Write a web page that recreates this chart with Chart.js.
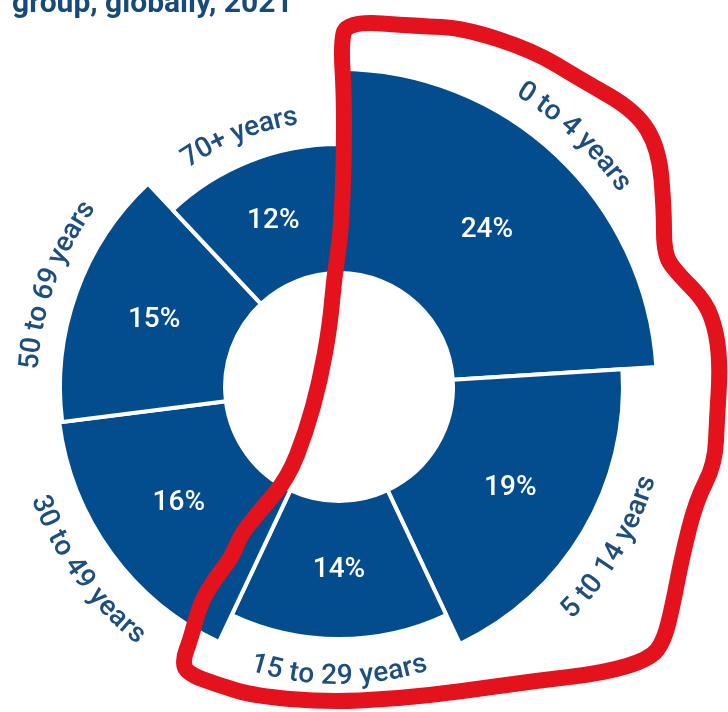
<!DOCTYPE html>
<html>
<head>
<meta charset="utf-8">
<script src="https://cdn.jsdelivr.net/npm/chart.js@4.4.1/dist/chart.umd.min.js"></script>
<style>
  html, body { margin: 0; padding: 0; background: #fff; }
  #wrap { position: relative; width: 728px; height: 712px; overflow: hidden; }
  #title {
    position: absolute; left: 12px; top: -13px;
    font: bold 30px Roboto, sans-serif; line-height: 29px;
    color: #174a7c; white-space: nowrap; z-index: 2;
  }
  canvas { position: absolute; left: 0; top: 0; }
</style>
</head>
<body>
<div id="wrap">
  <div id="title">group, globally, 2021</div>
  <canvas id="chart" width="728" height="712"></canvas>
</div>
<script>
// ── data ──────────────────────────────────────
const ageGroups = ['0 to 4 years', '5 t0 14 years', '15 to 29 years', '30 to 49 years', '50 to 69 years', '70+ years'];
const shares    = [24, 19, 14, 16, 15, 12];

// ── look ──────────────────────────────────────
const BLUE       = '#034c8e';
const LABEL_BLUE = '#1d4e7e';
const RED        = '#e3121d';
const HOLE_R     = 114;
const OUTER_R    = [318, 284, 252, 282, 279, 243];   // ring depth per slice, as drawn
const FONT       = 'Roboto, sans-serif';

// freehand highlight, offsets from the pie centre
const highlightTrace = [
  [7,-366],[79,-361],[125,-359],[195,-336],[241,-308],[297,-276],[320,-238],
  [325,-178],[325,-132],[339,-113],[367,-85],[378,-53],[381,-16],[378,31],
  [376,77],[357,114],[343,170],[334,217],[325,254],[311,272],[265,286],
  [195,294],[125,304],[56,312],[-14,315],[-84,309],[-121,298],[-153,286],
  [-156,272],[-149,254],[-139,217],[-125,193],[-107,170],[-98,147],[-79,124],
  [-51,91],[-33,45],[-19,-6],[-9,-62],[-5,-108],[2,-155],[5,-225],[5,-294],[2,-341],
];

function drawArcText(ctx, text, cx, cy, r, mid, bottom) {
  const chars  = [...text];
  const widths = chars.map(ch => ctx.measureText(ch).width);
  const total  = widths.reduce((a, b) => a + b, 0);
  const dir    = bottom ? -1 : 1;
  const start  = mid - dir * total / (2 * r);
  let off = 0;
  chars.forEach((ch, i) => {
    const a = start + dir * (off + widths[i] / 2) / r;
    off += widths[i];
    ctx.save();
    ctx.translate(cx + r * Math.cos(a), cy + r * Math.sin(a));
    ctx.rotate(a + dir * Math.PI / 2);
    ctx.fillText(ch, 0, 0);
    ctx.restore();
  });
}

const ringPlugin = {
  id: 'ring',
  afterDatasetsUpdate(chart) {
    chart.getDatasetMeta(0).data.forEach((arc, i) => {
      arc.innerRadius = HOLE_R;
      arc.outerRadius = OUTER_R[i];
    });
  },
  afterDatasetsDraw(chart) {
    const ctx = chart.ctx;
    const arcs = chart.getDatasetMeta(0).data;
    ctx.save();
    ctx.textAlign = 'center';
    ctx.textBaseline = 'middle';
    arcs.forEach((arc, i) => {
      const mid = (arc.startAngle + arc.endAngle) / 2;
      const r = (arc.innerRadius + arc.outerRadius) / 2;
      ctx.font = `500 28px ${FONT}`;
      ctx.fillStyle = '#fff';
      ctx.fillText(shares[i] + '%', arc.x + r * Math.cos(mid), arc.y + r * Math.sin(mid));

      const bottom = Math.sin(mid) > 0;
      ctx.fillStyle = LABEL_BLUE;
      drawArcText(ctx, ageGroups[i], arc.x, arc.y, arc.outerRadius + (bottom ? 38 : 30), mid, bottom);
    });
    ctx.restore();
  },
  afterDraw(chart) {
    const ctx = chart.ctx;
    const arc = chart.getDatasetMeta(0).data[0];
    const pts = highlightTrace.map(([dx, dy]) => [arc.x + dx, arc.y + dy]);
    ctx.save();
    ctx.strokeStyle = RED;
    ctx.lineWidth = 16;
    ctx.lineJoin = 'round';
    ctx.lineCap = 'round';
    ctx.beginPath();
    const n = pts.length;
    const m0 = [(pts[n - 1][0] + pts[0][0]) / 2, (pts[n - 1][1] + pts[0][1]) / 2];
    ctx.moveTo(m0[0], m0[1]);
    for (let i = 0; i < n; i++) {
      const p = pts[i], q = pts[(i + 1) % n];
      ctx.quadraticCurveTo(p[0], p[1], (p[0] + q[0]) / 2, (p[1] + q[1]) / 2);
    }
    ctx.closePath();
    ctx.stroke();
    ctx.restore();
  },
};

new Chart(document.getElementById('chart'), {
  type: 'doughnut',
  data: {
    labels: ageGroups,
    datasets: [{
      data: shares,
      backgroundColor: BLUE,
      borderColor: '#fff',
      borderWidth: 4,
    }],
  },
  options: {
    responsive: false,
    animation: false,
    events: [],
    layout: { padding: { left: 0, right: 50, top: 62, bottom: 0 } },
    plugins: {
      legend: { display: false },
      tooltip: { enabled: false },
    },
  },
  plugins: [ringPlugin],
});
</script>
</body>
</html>
